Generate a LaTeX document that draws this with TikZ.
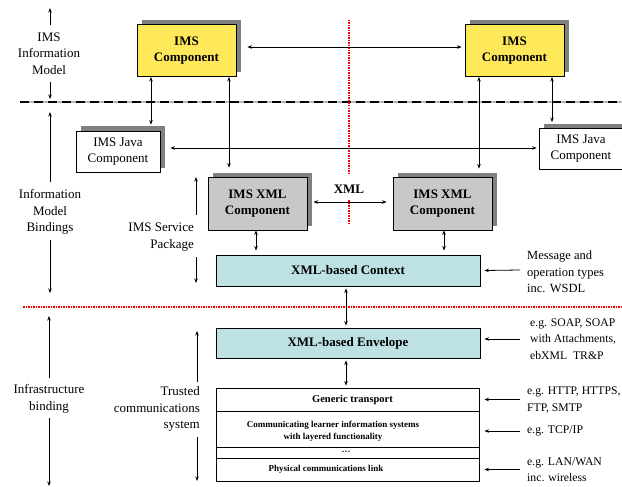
\documentclass[tikz,border=0pt]{standalone}
\usepackage{fontspec}
\setmainfont{Liberation Serif}
\usetikzlibrary{arrows.meta,shadows}
\definecolor{imsyellow}{RGB}{255,232,90}
\definecolor{xmlgray}{RGB}{200,200,200}
\definecolor{ctxblue}{RGB}{190,226,228}
\definecolor{shadowgray}{RGB}{128,128,128}
\definecolor{lightline}{RGB}{185,185,185}
\tikzset{
  shadowed/.style={drop shadow={shadow xshift=4.5pt,shadow yshift=4.5pt,fill=shadowgray,opacity=1}},
  boxbase/.style={draw=black,line width=0.9pt,inner sep=0pt,align=center},
  imsbox/.style={boxbase,shadowed,fill=imsyellow,minimum width=99pt,minimum height=52pt,font=\bfseries\fontsize{13}{16}\selectfont},
  javabox/.style={boxbase,shadowed,fill=white,minimum width=84pt,minimum height=41pt,font=\fontsize{13}{16}\selectfont},
  xmlbox/.style={boxbase,shadowed,fill=xmlgray,minimum width=99pt,minimum height=53pt,font=\bfseries\fontsize{13}{16}\selectfont},
  layerbox/.style={boxbase,fill=ctxblue,minimum width=264pt,font=\bfseries\fontsize{13}{16}\selectfont},
  rowbox/.style={boxbase,fill=white,minimum width=263pt},
  lbl/.style={inner sep=0pt,align=center,font=\fontsize{13}{16.5}\selectfont},
  rlbl/.style={inner sep=0pt,align=left,anchor=west,font=\fontsize{12.5}{16.5}\selectfont},
  eglbl/.style={rlbl,font=\fontsize{11.7}{16.5}\selectfont},
  arr/.style={-{Stealth[length=4.5pt,width=3.5pt]},line width=0.8pt},
  darr/.style={{Stealth[length=4.5pt,width=3.5pt]}-{Stealth[length=4.5pt,width=3.5pt]},line width=0.8pt},
  reddot/.style={red,line width=2pt,dash pattern=on 1.5pt off 1pt}
}
\begin{document}
\begin{tikzpicture}[x=1pt,y=-1pt]
\useasboundingbox (0,0) rectangle (622,487);

% separators
\coordinate (dashA) at (20,102);
\coordinate (dashB) at (622,102);
\draw[lightline,line width=1.6pt] (dashA) -- (dashB);
\draw[black,line width=2.6pt,dash pattern=on 9pt off 5pt] (dashA) -- (dashB);
\coordinate (redhA) at (23,307);
\coordinate (redhB) at (622,307);
\draw[reddot] (redhA) -- (redhB);
\coordinate (redvA) at (349,20);
\coordinate (redvB) at (349,175);
\coordinate (redvC) at (349,200);
\coordinate (redvD) at (349,223);
\draw[reddot] (redvA) -- (redvB);
\draw[reddot] (redvC) -- (redvD);

% components
\node[imsbox]  (imsL)  at (186.5,50.5) {IMS\\Component};
\node[imsbox]  (imsR)  at (514.5,50.5) {IMS\\Component};
\node[javabox] (javaL) at (118,151.5) {IMS Java\\Component};
\node[javabox] (javaR) at (581,149) {IMS Java\\Component};
\node[xmlbox]  (xmlL)  at (257.5,203.5) {IMS XML\\Component};
\node[xmlbox]  (xmlR)  at (442.5,203.5) {IMS XML\\Component};
\node[font=\bfseries\fontsize{13}{16}\selectfont,inner sep=0pt] (xmllbl) at (349,189) {XML};

\node[layerbox,minimum height=31pt] (ctx) at (348,270.5) {XML-based Context};
\node[layerbox,minimum height=30pt] (env) at (348,343) {XML-based Envelope};

% transport stack
\node[rowbox,minimum height=23pt] (gen)  at (347.5,399.5) {};
\node[rowbox,minimum height=36pt] (comm) at (347.5,429) {};
\node[rowbox,minimum height=11pt] (dots) at (347.5,452.5) {};
\node[rowbox,minimum height=23pt] (phys) at (347.5,469.5) {};
\node[inner sep=0pt,font=\bfseries\fontsize{10.5}{12}\selectfont] (gentxt) at (352.5,399.5) {Generic transport};
\node[inner sep=0pt,align=center,font=\bfseries\fontsize{9}{12}\selectfont] (commtxt) at (333,431) {Communicating learner information systems\\with layered functionality};
\node[inner sep=0pt,font=\bfseries\fontsize{9}{10}\selectfont] (dotstxt) at (346,451.5) {\ldots};
\node[inner sep=0pt,font=\bfseries\fontsize{9}{12}\selectfont] (phystxt) at (326,469.5) {Physical communications link};

% left labels
\node[lbl] (lIMS) at (49,53.5) {IMS\\Information\\Model};
\node[lbl] (lIMB) at (50,212) {Information\\Model\\Bindings};
\node[lbl,align=right,anchor=east] (lSvc) at (194,237) {IMS Service\\Package};
\node[lbl] (lInf) at (49,399) {Infrastructure\\binding};
\node[lbl,align=right,anchor=east] (lTr) at (200,409) {Trusted\\communications\\system};

% right labels
\node[rlbl] (rMsg)  at (527,272) {Message and\\operation types\\inc. WSDL};
\node[eglbl] (rSoap) at (530,339) {e.g. SOAP, SOAP\\with Attachments,\\ebXML\ \ TR\&P};
\node[eglbl] (rHttp) at (527,400) {e.g. HTTP, HTTPS,\\FTP, SMTP};
\node[eglbl] (rTcp)  at (527,431) {e.g. TCP/IP};
\node[eglbl] (rLan)  at (527,469.5) {e.g. LAN/WAN\\inc. wireless};

% left label arrows
\coordinate (a1s) at (50,25);  \coordinate (a1e) at (50,8);
\coordinate (a2s) at (50,82);  \coordinate (a2e) at (50,99);
\coordinate (a3s) at (50,182); \coordinate (a3e) at (50,112);
\coordinate (a4s) at (50,240); \coordinate (a4e) at (50,293);
\coordinate (a5s) at (49,378); \coordinate (a5e) at (49,316);
\coordinate (a6s) at (49,418); \coordinate (a6e) at (49,486);
\coordinate (a7s) at (196,215); \coordinate (a7e) at (196,177);
\coordinate (a8s) at (196,257); \coordinate (a8e) at (196,283);
\coordinate (a9s) at (197,382); \coordinate (a9e) at (197,331);
\coordinate (a10s) at (197,437); \coordinate (a10e) at (197,481);
\foreach \i in {1,...,10} \draw[arr] (a\i s) -- (a\i e);

% component connectors
\draw[darr] ([xshift=11pt,yshift=3.5pt]imsL.east) -- ([xshift=-3pt,yshift=3.5pt]imsR.west);
\draw[darr] ([xshift=-35.5pt]imsL.south) -- ([xshift=33pt,yshift=6pt]javaL.north);
\draw[darr] ([xshift=42.5pt]imsL.south) -- ([xshift=-28.5pt,yshift=9pt]xmlL.north);
\draw[darr] ([xshift=-35.5pt]imsR.south) -- ([xshift=36.5pt,yshift=8pt]xmlR.north);
\draw[darr] ([xshift=37.5pt]imsR.south) -- ([xshift=-29pt,yshift=6pt]javaR.north);
\draw[darr] ([xshift=10pt,yshift=3.5pt]javaL.east) -- ([xshift=-2pt,yshift=1pt]javaR.west);
\draw[darr] ([xshift=6pt,yshift=1.5pt]xmlL.east) -- ([xshift=-6pt,yshift=1.5pt]xmlR.west);
\draw[darr] ([xshift=-1.5pt]xmlL.south) -- ([xshift=-92pt,yshift=4pt]ctx.north);
\draw[darr] ([xshift=1.5pt]xmlR.south) -- ([xshift=96pt,yshift=4pt]ctx.north);
\draw[darr] ([xshift=-2pt,yshift=-2pt]ctx.south) -- ([xshift=-2pt,yshift=2pt]env.north);
\draw[darr] ([xshift=-2pt,yshift=-2pt]env.south) -- ([xshift=-1.5pt,yshift=2pt]gen.north);

% right label arrows
\coordinate (r1) at (520,270);
\coordinate (r2) at (520,339);
\coordinate (r3) at (520,399.5);
\coordinate (r4) at (520,431);
\coordinate (r5) at (520,469.5);
\draw[arr] (r1) -- ([xshift=4pt]ctx.east);
\draw[arr] (r2) -- ([xshift=4pt,yshift=4pt]env.east);
\draw[arr] (r3) -- ([xshift=5pt]gen.east);
\draw[arr] (r4) -- ([xshift=5pt,yshift=-2pt]comm.east);
\draw[arr] (r5) -- ([xshift=5pt]phys.east);
\end{tikzpicture}
\end{document}
